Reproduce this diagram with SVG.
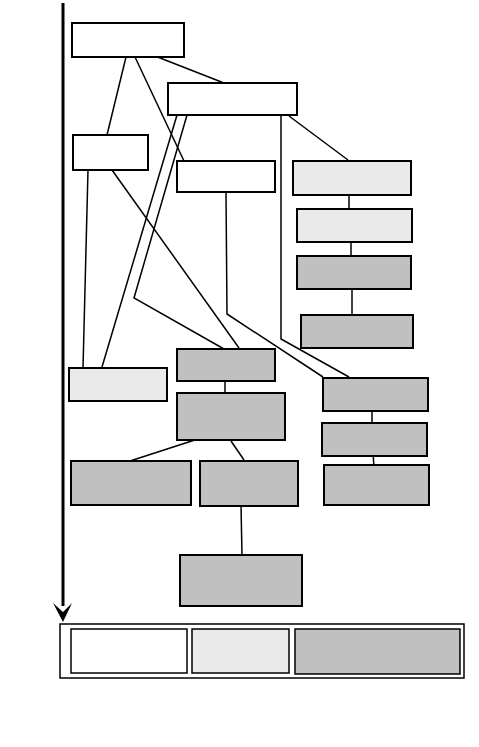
<svg xmlns="http://www.w3.org/2000/svg" width="479" height="747" viewBox="0 0 479 747">
<style>
.w{fill:#fff;stroke:#000;stroke-width:2}
.l{fill:#eaeaea;stroke:#000;stroke-width:2}
.g{fill:#c0c0c0;stroke:#000;stroke-width:2}
.t{fill:none;stroke:#000;stroke-width:1.5}
.c line,.c polyline{fill:none;stroke:#000;stroke-width:1.5}
</style>
<defs>
<marker id="ah" markerWidth="6" markerHeight="6" refX="4" refY="3" orient="auto" markerUnits="strokeWidth">
<path d="M0,0 L6,3 L0,6 L1.5,3 z" fill="#000"/>
</marker>
</defs>
<rect width="479" height="747" fill="#fff"/>
<g id="timeline">
<line x1="63" y1="3" x2="63" y2="606" stroke="#000" stroke-width="3"/>
<path d="M53,603 L63,612 L72,603 L63,622 z" fill="#000"/>
</g>
<g class="c" id="connectors">
<line x1="126" y1="57" x2="107" y2="135"/>
<line x1="135" y1="57" x2="184" y2="161"/>
<line x1="155" y1="56" x2="224" y2="83"/>
<line x1="177" y1="115" x2="102" y2="367"/>
<polyline points="187,115 134,298 224,349"/>
<line x1="88" y1="170" x2="83" y2="368"/>
<line x1="112" y1="170" x2="239" y2="348"/>
<polyline points="226,192 227,314 323,377"/>
<polyline points="281,115 281,339 349,377"/>
<line x1="289" y1="116" x2="348" y2="160"/>
<line x1="349" y1="195" x2="349" y2="210"/>
<line x1="351" y1="242" x2="351" y2="257"/>
<line x1="352" y1="287" x2="352" y2="315"/>
<line x1="225" y1="380" x2="225" y2="396"/>
<line x1="201" y1="438" x2="130" y2="461"/>
<line x1="231" y1="441" x2="244" y2="460"/>
<line x1="241" y1="505" x2="242" y2="556"/>
<line x1="372" y1="409" x2="372" y2="423"/>
<line x1="373" y1="453" x2="374" y2="467"/>
</g>
<g id="nA"><rect class="w" x="72" y="23" width="112" height="34"/></g>
<g id="nB"><rect class="w" x="168" y="83" width="129" height="32"/></g>
<g id="nC"><rect class="w" x="73" y="135" width="75" height="35"/></g>
<g id="nD"><rect class="w" x="177" y="161" width="98" height="31"/></g>
<g id="nE"><rect class="l" x="293" y="161" width="118" height="34"/></g>
<g id="nF"><rect class="l" x="297" y="209" width="115" height="33"/></g>
<g id="nG"><rect class="g" x="297" y="256" width="114" height="33"/></g>
<g id="nH"><rect class="g" x="301" y="315" width="112" height="33"/></g>
<g id="nI"><rect class="l" x="69" y="368" width="98" height="33"/></g>
<g id="nJ"><rect class="g" x="177" y="349" width="98" height="32"/></g>
<g id="nK"><rect class="g" x="177" y="393" width="108" height="47"/></g>
<g id="nL"><rect class="g" x="71" y="461" width="120" height="44"/></g>
<g id="nM"><rect class="g" x="200" y="461" width="98" height="45"/></g>
<g id="nN"><rect class="g" x="323" y="378" width="105" height="33"/></g>
<g id="nO"><rect class="g" x="322" y="423" width="105" height="33"/></g>
<g id="nP"><rect class="g" x="324" y="465" width="105" height="40"/></g>
<g id="nQ"><rect class="g" x="180" y="555" width="122" height="51"/></g>
<g id="legend">
<rect class="t" x="60" y="624" width="404" height="54"/>
<rect class="t" x="71" y="629" width="116" height="44"/>
<rect class="t" x="192" y="629" width="97" height="44" fill="#eaeaea" style="fill:#eaeaea"/>
<rect class="t" x="295" y="629" width="165" height="45" style="fill:#c0c0c0"/>
</g>
</svg>
